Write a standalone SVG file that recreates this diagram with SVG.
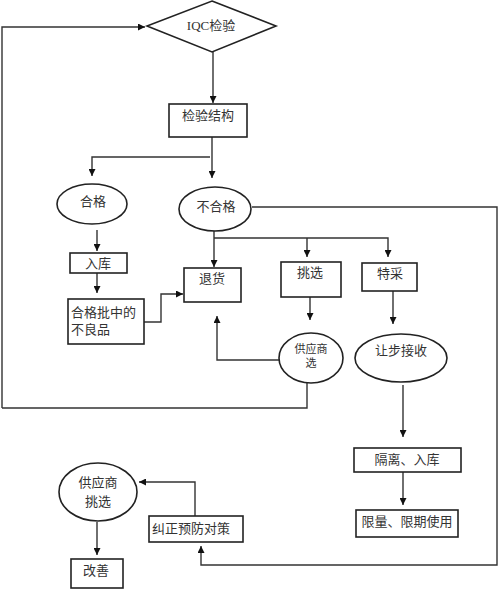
<svg xmlns="http://www.w3.org/2000/svg" width="500" height="590" viewBox="0 0 500 590">
<style>
.n{fill:#fff;stroke:#222;stroke-width:1.6}
.c{fill:none;stroke:#333;stroke-width:1.4}
text{font-family:"Liberation Serif","Noto Sans CJK SC",serif;font-size:13px;fill:#333;text-anchor:middle}
.s{font-size:11px}
.l{text-anchor:start}
</style>
<defs>
<marker id="a" viewBox="0 0 10 10" refX="10" refY="5" markerWidth="7" markerHeight="7" markerUnits="userSpaceOnUse" orient="auto">
<path d="M0,0 L10,5 L0,10 z" fill="#111"/>
</marker>
</defs>
<rect width="500" height="590" fill="#fff"/>
<g id="connectors">
<path class="c" d="M2,408 V27 H145" marker-end="url(#a)"/>
<path class="c" d="M213,52 V103" marker-end="url(#a)"/>
<path class="c" d="M212,137 V178" marker-end="url(#a)"/>
<path class="c" d="M210,157 H92 V176" marker-end="url(#a)"/>
<path class="c" d="M97,230 V251" marker-end="url(#a)"/>
<path class="c" d="M97,273 V293" marker-end="url(#a)"/>
<path class="c" d="M144,322 H161 V294 H183" marker-end="url(#a)"/>
<path class="c" d="M214,231 V267" marker-end="url(#a)"/>
<path class="c" d="M214,238 H388 V257" marker-end="url(#a)"/>
<path class="c" d="M307,238 V257" marker-end="url(#a)"/>
<path class="c" d="M310,297 V320" marker-end="url(#a)"/>
<path class="c" d="M393,291 V324" marker-end="url(#a)"/>
<path class="c" d="M279,360 H217 V316" marker-end="url(#a)"/>
<path class="c" d="M307,383 V408 H2"/>
<path class="c" d="M403,385 V437" marker-end="url(#a)"/>
<path class="c" d="M403,472 V505" marker-end="url(#a)"/>
<path class="c" d="M252,207 H497 V565 H201 V546" marker-end="url(#a)"/>
<path class="c" d="M195,516 V482 H139" marker-end="url(#a)"/>
<path class="c" d="M97,522 V555" marker-end="url(#a)"/>
</g>
<g id="iqc">
<polygon class="n" points="212,1 276,26 212,52 147,26"/>
<text x="211" y="30">IQC检验</text>
</g>
<g id="jyjg">
<rect class="n" x="169" y="104" width="78" height="33"/>
<text x="208" y="120">检验结构</text>
</g>
<g id="hege">
<ellipse class="n" cx="92" cy="204" rx="35" ry="20"/>
<text x="93" y="206">合格</text>
</g>
<g id="buhege">
<ellipse class="n" cx="215" cy="209" rx="36" ry="22"/>
<text x="216" y="211">不合格</text>
</g>
<g id="ruku">
<rect class="n" x="70" y="253" width="57" height="20"/>
<text x="98" y="268">入库</text>
</g>
<g id="buliang">
<rect class="n" x="68" y="299" width="76" height="45"/>
<text class="l" x="71" y="317">合格批中的</text>
<text class="l" x="71" y="334">不良品</text>
</g>
<g id="tuihuo">
<rect class="n" x="184" y="268" width="57" height="34"/>
<text x="212" y="283">退货</text>
</g>
<g id="tiaoxuan">
<rect class="n" x="281" y="262" width="60" height="35"/>
<text x="310" y="277">挑选</text>
</g>
<g id="tecai">
<rect class="n" x="362" y="263" width="55" height="28"/>
<text x="390" y="278">特采</text>
</g>
<g id="gysx">
<ellipse class="n" cx="311" cy="358" rx="32" ry="25"/>
<text class="s" x="311" y="353">供应商</text>
<text class="s" x="311" y="367">选</text>
</g>
<g id="rangbu">
<ellipse class="n" cx="401" cy="358" rx="46" ry="24"/>
<text x="401" y="355">让步接收</text>
</g>
<g id="geli">
<rect class="n" x="354" y="448" width="107" height="24"/>
<text x="407" y="464">隔离、入库</text>
</g>
<g id="xianliang">
<rect class="n" x="356" y="510" width="102" height="27"/>
<text x="407" y="526">限量、限期使用</text>
</g>
<g id="gystx">
<ellipse class="n" cx="98" cy="492" rx="39" ry="29"/>
<text x="98" y="487">供应商</text>
<text x="98" y="506">挑选</text>
</g>
<g id="jiuzheng">
<rect class="n" x="149" y="516" width="94" height="26"/>
<text class="l" x="152" y="533">纠正预防对策</text>
</g>
<g id="gaishan">
<rect class="n" x="71" y="559" width="52" height="29"/>
<text x="96" y="575">改善</text>
</g>
</svg>
